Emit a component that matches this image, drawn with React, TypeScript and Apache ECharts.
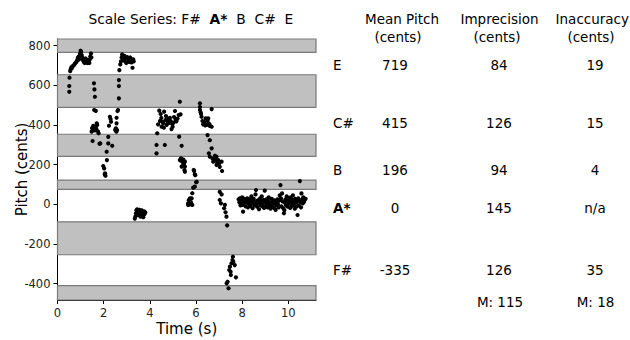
import React, { useEffect, useRef } from "react";
import * as echarts from "echarts";

type Pt = [number, number];

// Time (s), pitch (cents)
const eOnset1: Pt[] = [[0.51,567],[0.51,596],[0.52,638],[0.55,671],[0.57,680],[0.6,690],[0.62,686]];
const eCluster1: Pt[] = [[0.65,695],[0.7,700],[0.75,708],[0.78,712],[0.82,718],[0.85,725],[0.88,737],[0.9,742],[0.93,730],[0.95,748],[0.98,760],[1.0,774],[1.02,768],[1.05,752],[1.08,740],[1.1,730],[1.12,722],[1.15,716],[1.18,712],[1.2,720],[1.22,735],[1.25,728],[1.28,715],[1.3,712],[1.33,718],[1.36,725],[1.38,712],[1.4,730],[1.42,745],[1.45,760],[1.47,740]];
const fall1: Pt[] = [[1.58,610],[1.6,579],[1.62,542],[1.59,475],[1.66,471]];
const cSharp1: Pt[] = [[1.48,366],[1.5,384],[1.52,383],[1.52,319],[1.55,395],[1.58,378],[1.62,372],[1.65,390],[1.68,380],[1.7,408],[1.72,400],[1.75,368],[1.78,358],[1.82,305],[1.85,307]];
const dip1: Pt[] = [[1.98,193],[2.02,181],[2.06,156],[2.08,144],[2.05,150],[2.13,265],[2.14,223],[2.2,340],[2.2,307],[2.37,295]];
const cSharp1b: Pt[] = [[2.23,396],[2.27,441],[2.3,430],[2.32,416],[2.53,383],[2.5,375],[2.55,375],[2.56,436],[2.56,408],[2.58,374],[2.55,366],[2.6,470],[2.62,475]];
const eOnset2: Pt[] = [[2.66,534],[2.66,596],[2.66,626],[2.68,676]];
const eCluster2: Pt[] = [[2.72,705],[2.75,720],[2.78,740],[2.8,755],[2.82,745],[2.85,730],[2.88,725],[2.9,748],[2.92,735],[2.95,720],[2.98,712],[3.0,728],[3.02,742],[3.05,722],[3.08,735],[3.1,718],[3.12,728],[3.15,740],[3.18,725],[3.2,715],[3.25,688],[3.28,730],[3.3,720]];
const aLow: Pt[] = [[3.35,-72],[3.38,-60],[3.4,-45],[3.42,-30],[3.45,-25],[3.48,-40],[3.5,-55],[3.52,-35],[3.55,-28],[3.58,-45],[3.6,-62],[3.62,-38],[3.65,-30],[3.68,-50],[3.7,-42],[3.72,-65],[3.75,-35],[3.78,-48],[3.8,-40]];
const cSharp2: Pt[] = [[4.29,299],[4.29,257],[4.32,358],[4.36,403],[4.41,472],[4.44,420],[4.47,455],[4.5,435],[4.51,391],[4.55,415],[4.58,408],[4.61,386],[4.62,467],[4.65,299],[4.68,425],[4.7,445],[4.73,400],[4.76,418],[4.8,430],[4.83,410],[4.87,436],[4.9,420],[4.94,379],[4.97,405],[4.99,391],[5.02,412],[5.05,440],[5.09,470],[5.12,428],[5.15,418],[5.2,432],[5.25,450],[5.27,341],[5.3,517],[5.33,453],[5.38,295]];
const bCluster: Pt[] = [[5.3,223],[5.35,232],[5.4,215],[5.45,198],[5.38,190],[5.5,173],[5.52,215],[5.52,190],[5.52,164],[5.45,225],[5.48,205]];
const rise1: Pt[] = [[5.66,5],[5.66,-3],[5.69,21],[5.72,0],[5.74,13],[5.74,30],[5.78,10],[5.81,30],[5.84,56],[5.84,-3],[5.88,84],[5.92,168],[5.95,151],[5.95,89],[5.97,147],[6.03,114],[6.01,111],[5.9,173]];
const cSharp3: Pt[] = [[6.17,509],[6.17,490],[6.17,475],[6.2,463],[6.24,441],[6.28,420],[6.31,403],[6.36,416],[6.4,398],[6.42,433],[6.46,400],[6.5,420],[6.53,433],[6.58,405],[6.6,395],[6.68,480],[6.68,391],[6.22,455]];
const descent: Pt[] = [[6.5,349],[6.6,323],[6.56,257],[6.6,240],[6.68,282],[6.75,215],[6.79,232],[6.82,245],[6.89,240],[6.89,198],[6.96,223],[7.03,189],[7.11,215],[7.13,168],[6.72,230],[6.85,225],[6.92,210],[7.0,205]];
const toA: Pt[] = [[7.03,63],[7.11,50],[7.03,22],[7.08,5],[7.25,-3],[7.22,-20],[7.28,-40],[7.32,-62],[7.35,-106]];
const fSharp: Pt[] = [[7.33,-398],[7.37,-390],[7.41,-423],[7.44,-331],[7.47,-314],[7.51,-356],[7.54,-297],[7.58,-281],[7.6,-264],[7.62,-290],[7.68,-306],[7.73,-368],[7.5,-340]];
const aCloud: Pt[] = [[7.85,25],[7.88,10],[7.9,30],[7.93,-5],[7.95,18],[7.97,13],[8.0,35],[8.02,-3],[8.04,-37],[8.06,20],[8.08,5],[8.1,28],[8.13,12],[8.15,-10],[8.18,22],[8.2,8],[8.22,30],[8.25,-15],[8.27,15],[8.3,2],[8.33,25],[8.35,-8],[8.38,18],[8.4,40],[8.42,5],[8.45,-20],[8.48,12],[8.5,28],[8.53,-5],[8.55,15],[8.58,50],[8.6,72],[8.62,0],[8.65,-12],[8.68,20],[8.7,8],[8.73,-25],[8.75,10],[8.78,30],[8.8,-5],[8.83,15],[8.85,40],[8.88,-10],[8.9,5],[8.93,22],[8.95,-18],[8.98,69],[9.0,12],[9.03,-8],[9.05,25],[9.08,3],[9.1,-15],[9.13,18],[9.15,35],[9.18,-5],[9.2,10],[9.23,-22],[9.25,8],[9.28,28],[9.3,-10],[9.33,15],[9.35,2],[9.38,-18],[9.4,20],[9.43,5],[9.45,-28],[9.48,12],[9.5,-5],[9.53,25],[9.55,0],[9.58,-15],[9.6,18],[9.63,45],[9.66,97],[9.68,30],[9.7,-10],[9.73,55],[9.75,15],[9.78,-20],[9.81,-45],[9.83,-29],[9.85,8],[9.88,25],[9.9,-5],[9.93,40],[9.95,15],[9.98,-12],[10.0,30],[10.03,5],[10.05,20],[10.08,-18],[10.1,35],[10.13,10],[10.15,-8],[10.18,22],[10.2,45],[10.23,-3],[10.25,15],[10.28,-22],[10.3,28],[10.33,8],[10.35,-12],[10.38,18],[10.4,-54],[10.43,30],[10.45,-5],[10.48,20],[10.5,117],[10.52,10],[10.55,-15],[10.57,55],[10.6,25],[10.63,5],[10.65,35],[10.68,12],[10.7,20],[10.75,28]];

const xTicks = [0, 2, 4, 6, 8, 10];
const yTicks = [-400, -200, 0, 200, 400, 600, 800];
const X_MIN = 0, X_MAX = 11.2, Y_MIN = -482, Y_MAX = 833;
const grayBands: [number, number][] = [[766, 833], [489, 653], [242, 353], [75, 122], [-254, -88], [-482, -410]];

const noteNames = ["E", "C#", "B", "A*", "F#"];
const meanPitch = ["719", "415", "196", "0", "-335"];
const imprecision = ["84", "126", "94", "145", "126"];
const inaccuracy = ["19", "15", "4", "n/a", "35"];
const meanImprecision = "M: 115";
const meanInaccuracy = "M: 18";

const FONT = '"DejaVu Sans", sans-serif';

export default function App() {
  const ref = useRef<HTMLDivElement>(null);
  useEffect(() => {
    document.body.style.margin = "0";
    const chart = echarts.init(ref.current!, null, { renderer: "svg" });
    const all: Pt[] = [
      ...eOnset1, ...eCluster1, ...fall1, ...cSharp1, ...dip1, ...cSharp1b, ...eOnset2, ...eCluster2,
      ...aLow, ...cSharp2, ...bCluster, ...rise1, ...cSharp3, ...descent, ...toA, ...fSharp, ...aCloud,
    ];
    const rowY = [65, 122.7, 170, 207.7, 270];
    const mRowY = 302;
    const colLabelX = 333;
    const colMeanX = 395;
    const colImpX = 499;
    const colInaccX = 595;
    const tfs = 13.5;
    const txt = (text: string, x: number, y: number, align = "center", bold = false) => ({
      type: "text",
      x, y,
      style: { text, fontSize: tfs, fontFamily: FONT, fill: "#000", align, verticalAlign: "middle", fontWeight: bold ? "bold" : "normal" },
    });
    const graphics: any[] = [
      {
        type: "text", x: 190.8, y: 19,
        style: {
          text: "{n|Scale Series: F#  }{b|A*}{n|  B  C#  E}",
          align: "center", verticalAlign: "middle",
          rich: {
            n: { fontSize: 13.8, fontFamily: FONT, fill: "#000" },
            b: { fontSize: 13.8, fontFamily: FONT, fill: "#000", fontWeight: "bold" },
          },
        },
      },
      txt("Mean Pitch", 402, 19), txt("(cents)", 398, 36.7),
      txt("Imprecision", 499.5, 19), txt("(cents)", 497, 36.7),
      txt("Inaccuracy", 592.3, 19), txt("(cents)", 591, 36.7),
      txt(meanImprecision, 500, mRowY), txt(meanInaccuracy, 595.5, mRowY),
    ];
    noteNames.forEach((n, i) => {
      graphics.push(txt(n, colLabelX, rowY[i], "left", n === "A*"));
      graphics.push(txt(meanPitch[i], colMeanX, rowY[i]));
      graphics.push(txt(imprecision[i], colImpX, rowY[i]));
      graphics.push(txt(inaccuracy[i], colInaccX, rowY[i]));
    });

    chart.setOption({
      animation: false,
      grid: { left: 57.5, right: 314, top: 39, bottom: 40, containLabel: false, outerBoundsMode: "none" },
      xAxis: {
        type: "value", min: X_MIN, max: X_MAX,
        name: "Time (s)", nameLocation: "middle", nameGap: 21, nameMoveOverlap: false,
        nameTextStyle: { fontSize: 15, fontFamily: FONT, color: "#000" },
        axisLine: { show: true, onZero: false, lineStyle: { color: "#000", width: 1 } },
        axisTick: { show: true, length: 4, lineStyle: { color: "#000" }, customValues: xTicks },
        axisLabel: { fontSize: 11.5, fontFamily: FONT, color: "#222", margin: 7, customValues: xTicks },
        splitLine: { show: false },
      },
      yAxis: {
        type: "value", min: Y_MIN, max: Y_MAX,
        name: "Pitch (cents)", nameLocation: "middle", nameGap: 28, nameMoveOverlap: false,
        nameTextStyle: { fontSize: 15, fontFamily: FONT, color: "#000" },
        axisLine: { show: true, onZero: false, lineStyle: { color: "#000", width: 1 } },
        axisTick: { show: true, length: 4, lineStyle: { color: "#000" }, customValues: yTicks },
        axisLabel: { fontSize: 11.5, fontFamily: FONT, color: "#222", margin: 7, customValues: yTicks },
        splitLine: { show: false },
      },
      graphic: graphics,
      series: [
        {
          type: "scatter", data: [], z: 1, silent: true,
          markArea: {
            silent: true,
            itemStyle: { color: "#c0c0c0", borderColor: "#7a7a7a", borderWidth: 1.2 },
            data: grayBands.map(([lo, hi]) => [{ yAxis: lo }, { yAxis: hi }]),
          },
        },
        {
          type: "scatter", z: 5, data: all, symbolSize: 4.2,
          itemStyle: { color: "#000", opacity: 1 },
        },
      ],
    });
    return () => chart.dispose();
  }, []);
  return <div ref={ref} style={{ width: 630, height: 340 }} />;
}
